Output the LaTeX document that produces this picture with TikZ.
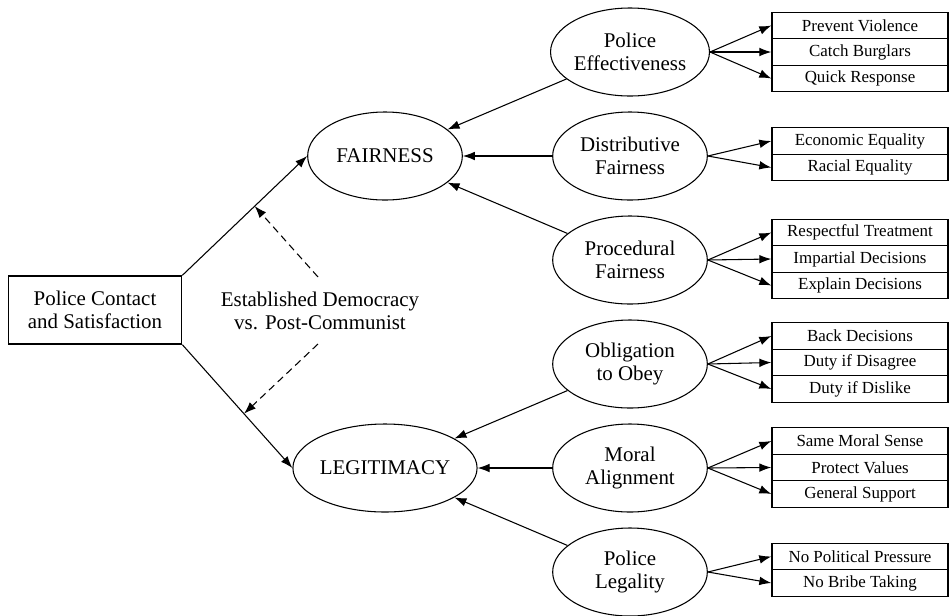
\documentclass[tikz,border=0pt]{standalone}
\usepackage{fontspec}
\setmainfont{Liberation Serif}
\usetikzlibrary{shapes.geometric,arrows.meta}

\begin{document}
\begin{tikzpicture}[x=0.75pt, y=-0.75pt,
    latent/.style={draw, ellipse, line width=0.8pt, minimum width=116pt, minimum height=66pt,
        inner sep=0pt, align=center, font=\fontsize{15.7}{17.5}\selectfont},
    item/.style={draw, line width=1pt, minimum width=132pt, minimum height=19.9pt,
        inner sep=0pt, font=\fontsize{12.7}{14}\selectfont},
    arr/.style={line width=0.8pt, -{Latex[length=9pt,width=6.5pt]}}]
    \useasboundingbox (0,0) rectangle (949,615);

    % Contact and moderator
    \node[draw, line width=1pt, minimum width=130pt, minimum height=51pt, align=center,
        font=\fontsize{15.7}{17.5}\selectfont] (contact) at (95,310) {Police Contact\\and Satisfaction};
    \node[align=center, font=\fontsize{15.7}{17.5}\selectfont] (grp) at (320,311) {Established Democracy\\vs. Post-Communist};
    \coordinate (gu) at (318,277);
    \coordinate (gd) at (318,344);

    % Outcomes
    \node[latent] (fair) at (385,156) {FAIRNESS};
    \node[latent] (legit) at (385,468) {LEGITIMACY};

    \draw[arr] (contact.north east) -- (fair.west) coordinate[pos=0.58] (fm);
    \draw[arr] (contact.south east) -- (legit.west) coordinate[pos=0.56] (lm);
    \draw[arr, dash pattern=on 5.5pt off 3.5pt] (gu) -- (fm);
    \draw[arr, dash pattern=on 5.5pt off 3.5pt] (gd) -- (lm);

    % Fairness dimensions
    \node[latent] (eff) at (630,52) {Police\\Effectiveness};
    \node[latent] (dist) at (630,156) {Distributive\\Fairness};
    \node[latent] (proc) at (630,260) {Procedural\\Fairness};
    \draw[arr] (eff) -- (fair);
    \draw[arr] (dist) -- (fair);
    \draw[arr] (proc) -- (fair);

    % Legitimacy dimensions
    \node[latent] (oblig) at (630,364) {Obligation\\to Obey};
    \node[latent] (moral) at (630,468) {Moral\\Alignment};
    \node[latent] (legal) at (630,572) {Police\\Legality};
    \draw[arr] (oblig) -- (legit);
    \draw[arr] (moral) -- (legit);
    \draw[arr] (legal) -- (legit);

    % Indicators: effectiveness
    \node[item] (pv) at (860,25.5) {Prevent Violence};
    \node[item] (cb) at (860,52) {Catch Burglars};
    \node[item] (qr) at (860,78.5) {Quick Response};
    \draw[arr] (eff.east) -- (pv.west);
    \draw[arr] (eff.east) -- (cb.west);
    \draw[arr] (eff.east) -- (qr.west);

    % Indicators: distributive
    \node[item] (ee) at (860,141) {Economic Equality};
    \node[item] (re) at (860,167.5) {Racial Equality};
    \draw[arr] (dist.east) -- (ee.west);
    \draw[arr] (dist.east) -- (re.west);

    % Indicators: procedural
    \node[item] (rt) at (860,232.5) {Respectful Treatment};
    \node[item] (id) at (860,259) {Impartial Decisions};
    \node[item] (ed) at (860,285.5) {Explain Decisions};
    \draw[arr] (proc.east) -- (rt.west);
    \draw[arr] (proc.east) -- (id.west);
    \draw[arr] (proc.east) -- (ed.west);

    % Indicators: obligation
    \node[item] (bd) at (860,336) {Back Decisions};
    \node[item] (dd) at (860,362.5) {Duty if Disagree};
    \node[item] (dl) at (860,389) {Duty if Dislike};
    \draw[arr] (oblig.east) -- (bd.west);
    \draw[arr] (oblig.east) -- (dd.west);
    \draw[arr] (oblig.east) -- (dl.west);

    % Indicators: moral alignment
    \node[item] (sm) at (860,441) {Same Moral Sense};
    \node[item] (pvl) at (860,467.5) {Protect Values};
    \node[item] (gs) at (860,494) {General Support};
    \draw[arr] (moral.east) -- (sm.west);
    \draw[arr] (moral.east) -- (pvl.west);
    \draw[arr] (moral.east) -- (gs.west);

    % Indicators: legality
    \node[item] (npp) at (860,556.5) {No Political Pressure};
    \node[item] (nbt) at (860,583) {No Bribe Taking};
    \draw[arr] (legal.east) -- (npp.west);
    \draw[arr] (legal.east) -- (nbt.west);
\end{tikzpicture}
\end{document}
